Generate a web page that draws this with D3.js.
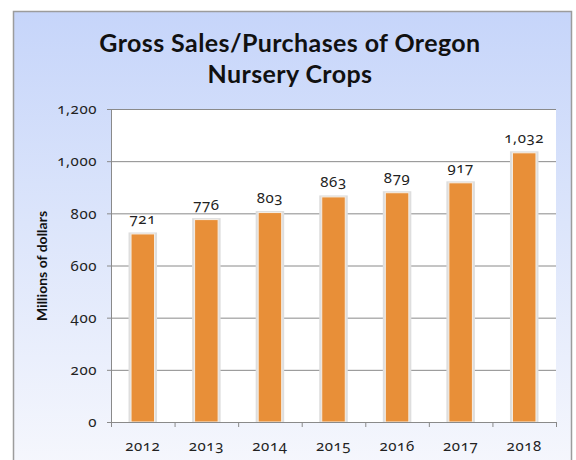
<!DOCTYPE html>
<html>
<head>
<meta charset="utf-8">
<script src="https://cdn.jsdelivr.net/npm/d3@7"></script>
<style>
  body { margin: 0; background: #fff; }
  svg { display: block; }
  .num { font-family: "Noto Sans", sans-serif; font-variant-numeric: oldstyle-nums; font-size: 15px; letter-spacing: 0.6px; fill: #222; }
</style>
</head>
<body>
<script>
const title = ["Gross Sales/Purchases of Oregon", "Nursery Crops"];
const yTitle = "Millions of dollars";

// data
const years = ["2012", "2013", "2014", "2015", "2016", "2017", "2018"];
const sales = [721, 776, 803, 863, 879, 917, 1032];
const yTicks = [0, 200, 400, 600, 800, 1000, 1200];

// size of svg and plot area
const canvWidth = 576;
const canvHeight = 460;
const plot = {left: 111, right: 556, top: 109, bottom: 422};

const svg = d3.select("body").append("svg")
  .attr("width", canvWidth)
  .attr("height", canvHeight);

//**************************************************************************
// background panel

const grad = svg.append("defs").append("linearGradient")
  .attr("id", "bg")
  .attr("x1", 0).attr("y1", 0).attr("x2", 0).attr("y2", 1);
grad.append("stop").attr("offset", "0%").attr("stop-color", "#c6d5fa");
grad.append("stop").attr("offset", "45%").attr("stop-color", "#dce5fb");
grad.append("stop").attr("offset", "100%").attr("stop-color", "#f7f8fd");

svg.append("rect")
  .attr("x", 13.5).attr("y", 11.5)
  .attr("width", 558).attr("height", 470)
  .attr("fill", "url(#bg)")
  .attr("stroke", "#9c9c9c")
  .attr("stroke-width", 1.5);

// title
svg.append("text")
  .attr("x", 290)
  .attr("y", 52)
  .attr("text-anchor", "middle")
  .attr("font-family", "Lato, sans-serif")
  .attr("font-weight", "bold")
  .attr("font-size", 25)
  .attr("letter-spacing", 0.4)
  .attr("fill", "#111")
  .selectAll("tspan")
  .data(title)
  .enter().append("tspan")
  .attr("x", 290)
  .attr("dy", (d, i) => i === 0 ? 0 : 31)
  .text(d => d);

//**************************************************************************
// scales

const xScale = d3.scaleBand()
  .domain(years)
  .range([plot.left, plot.right])
  .paddingInner(0.63)
  .paddingOuter(0.315);

const yScale = d3.scaleLinear()
  .domain([0, 1200])
  .range([plot.bottom, plot.top]);

// plot area
svg.append("rect")
  .attr("x", plot.left).attr("y", plot.top)
  .attr("width", plot.right - plot.left)
  .attr("height", plot.bottom - plot.top)
  .attr("fill", "#fff");

// y axis with gridlines
const yAxis = d3.axisLeft(yScale)
  .tickValues(yTicks)
  .tickFormat(d3.format(","))
  .tickSize(-(plot.right - plot.left))
  .tickPadding(14);

const gy = svg.append("g")
  .attr("id", "y-axis")
  .attr("transform", `translate(${plot.left},0)`)
  .call(yAxis);
gy.select(".domain").remove();
gy.selectAll(".tick line")
  .attr("x1", -4)
  .attr("stroke", "#8a8a8a");
gy.selectAll(".tick text").attr("class", "num").attr("font-size", null).attr("font-family", null);

svg.append("line")
  .attr("x1", plot.left + 0.5).attr("x2", plot.left + 0.5)
  .attr("y1", plot.top).attr("y2", plot.bottom)
  .attr("stroke", "#8a8a8a");

// y axis title
svg.append("text")
  .attr("transform", `translate(47,266) rotate(-90)`)
  .attr("text-anchor", "middle")
  .attr("font-family", "Lato, sans-serif")
  .attr("font-weight", "bold")
  .attr("font-size", 14)
  .attr("fill", "#111")
  .text(yTitle);

//**************************************************************************
// bars

const bars = svg.append("g").attr("id", "bars");

// soft shadow behind each bar
bars.selectAll("rect.shadow")
  .data(sales)
  .enter().append("rect")
  .attr("class", "shadow")
  .attr("x", (d, i) => xScale(years[i]) - 2.5)
  .attr("y", d => yScale(d) - 1.5)
  .attr("width", xScale.bandwidth() + 5)
  .attr("height", d => plot.bottom - yScale(d) + 1.5)
  .attr("fill", "#dedede");

bars.selectAll("rect.bar")
  .data(sales)
  .enter().append("rect")
  .attr("class", "bar")
  .attr("x", (d, i) => xScale(years[i]))
  .attr("y", d => yScale(d))
  .attr("width", xScale.bandwidth())
  .attr("height", d => plot.bottom - yScale(d))
  .attr("fill", "#e88f38")
  .attr("stroke", "#f6efe6")
  .attr("stroke-width", 1);

// value labels
bars.selectAll("text")
  .data(sales)
  .enter().append("text")
  .attr("class", "num")
  .attr("x", (d, i) => xScale(years[i]) + xScale.bandwidth() / 2)
  .attr("y", d => yScale(d) - 10)
  .attr("text-anchor", "middle")
  .text(d => d3.format(",")(d));

//**************************************************************************
// x axis

const xAxis = d3.axisBottom(xScale).tickSize(0).tickPadding(18);
const gx = svg.append("g")
  .attr("id", "x-axis")
  .attr("transform", `translate(0,${plot.bottom})`)
  .call(xAxis);
gx.select(".domain").attr("stroke", "#8a8a8a");
gx.selectAll(".tick text").attr("class", "num").attr("font-size", null).attr("font-family", null);

// tick marks at category boundaries
gx.selectAll("line.sep")
  .data(d3.range(years.length + 1))
  .enter().append("line")
  .attr("class", "sep")
  .attr("x1", i => plot.left + i * (plot.right - plot.left) / years.length + 0.5)
  .attr("x2", i => plot.left + i * (plot.right - plot.left) / years.length + 0.5)
  .attr("y1", 0)
  .attr("y2", 5)
  .attr("stroke", "#8a8a8a");
</script>
</body>
</html>
